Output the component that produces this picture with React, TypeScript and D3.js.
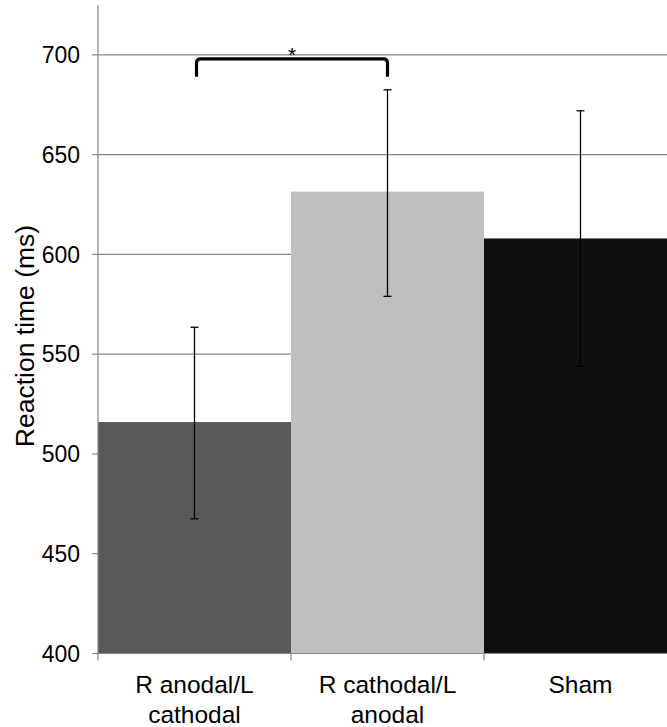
import React from "react";
import * as d3 from "d3";

const categories = ["R anodal/L cathodal", "R cathodal/L anodal", "Sham"];
const labelLines = [["R anodal/L", "cathodal"], ["R cathodal/L", "anodal"], ["Sham"]];
const means = [516, 631.5, 608];
const lower = [467.5, 579, 544];
const upper = [563.5, 682.5, 672];
const barColors = ["#595959", "#bfbfbf", "#0f0f0f"];
const yTicks = [400, 450, 500, 550, 600, 650, 700];

// significance bracket between the first two bars
const bracket = { from: 0, to: 1, top: 698, foot: 689, star: 702 };

const width = 667;
const height = 727;
const left = 98;
const top = 5;
const bottom = 653.5;
const font = "Arial, 'Liberation Sans', sans-serif";

const App = () => {
    const x = d3
        .scaleBand()
        .domain(categories)
        .range([left, 677])
        .padding(0);

    const y = d3
        .scaleLinear()
        .domain([400, 725])
        .range([bottom, top]);

    const cx = (i: number) => (x(categories[i]) as number) + x.bandwidth() / 2;
    const bx0 = cx(bracket.from) + 2;
    const bx1 = cx(bracket.to);
    const r = 4;
    const bracketPath =
        `M${bx0},${y(bracket.foot)} L${bx0},${y(bracket.top) + r} ` +
        `Q${bx0},${y(bracket.top)} ${bx0 + r},${y(bracket.top)} ` +
        `L${bx1 - r},${y(bracket.top)} Q${bx1},${y(bracket.top)} ${bx1},${y(bracket.top) + r} ` +
        `L${bx1},${y(bracket.foot)}`;

    return (
        <svg
            width={width}
            height={height}
            style={{ position: "absolute", left: 0, top: 0, background: "#fff" }}
        >
            {/* gridlines */}
            {yTicks.slice(1).map(t => (
                <line key={"g" + t} x1={left} x2={width} y1={y(t)} y2={y(t)} stroke="#868686" strokeWidth={1.2} />
            ))}

            {/* bars */}
            {means.map((m, i) => (
                <rect
                    key={"bar" + i}
                    x={x(categories[i])}
                    y={y(m)}
                    width={x.bandwidth()}
                    height={bottom - y(m)}
                    fill={barColors[i]}
                />
            ))}

            {/* error bars */}
            {means.map((m, i) => {
                const c = cx(i);
                return (
                    <g key={"err" + i} stroke="#000" strokeWidth={1.3}>
                        <line x1={c} x2={c} y1={y(upper[i])} y2={y(lower[i])} />
                        <line x1={c - 4} x2={c + 4} y1={y(upper[i])} y2={y(upper[i])} />
                        <line x1={c - 4} x2={c + 4} y1={y(lower[i])} y2={y(lower[i])} />
                    </g>
                );
            })}

            {/* y axis */}
            <line x1={left} x2={left} y1={top} y2={bottom} stroke="#868686" strokeWidth={1.2} />
            {yTicks.map(t => (
                <g key={"t" + t}>
                    <line x1={left - 6} x2={left} y1={y(t)} y2={y(t)} stroke="#868686" strokeWidth={1.2} />
                    <text
                        x={80}
                        y={y(t)}
                        dy="0.36em"
                        textAnchor="end"
                        fontFamily={font}
                        fontSize={23}
                        fill="#000"
                    >
                        {t}
                    </text>
                </g>
            ))}

            {/* x axis */}
            <line x1={left} x2={width} y1={bottom} y2={bottom} stroke="#868686" strokeWidth={1.2} />
            {categories.map((c, i) => (
                <line
                    key={"xt" + i}
                    x1={x(c)}
                    x2={x(c)}
                    y1={bottom}
                    y2={bottom + 7}
                    stroke="#868686"
                    strokeWidth={1.2}
                />
            ))}
            {labelLines.map((lines, i) => (
                <text
                    key={"xl" + i}
                    textAnchor="middle"
                    fontFamily={font}
                    fontSize={24.5}
                    fill="#000"
                >
                    {lines.map((l, j) => (
                        <tspan key={j} x={cx(i)} y={693 + j * 30}>{l}</tspan>
                    ))}
                </text>
            ))}

            {/* y label */}
            <text
                transform="rotate(-90)"
                x={-336}
                y={34}
                textAnchor="middle"
                fontFamily={font}
                fontSize={26.5}
                fill="#000"
            >
                {"Reaction time (ms)"}
            </text>

            {/* significance */}
            <path d={bracketPath} fill="none" stroke="#000" strokeWidth={3.2} />
            <text
                x={(bx0 + bx1) / 2}
                y={y(bracket.star)}
                dy="0.55em"
                textAnchor="middle"
                fontFamily={font}
                fontSize={21}
                fill="#000"
            >
                *
            </text>
        </svg>
    );
};

export default App;
